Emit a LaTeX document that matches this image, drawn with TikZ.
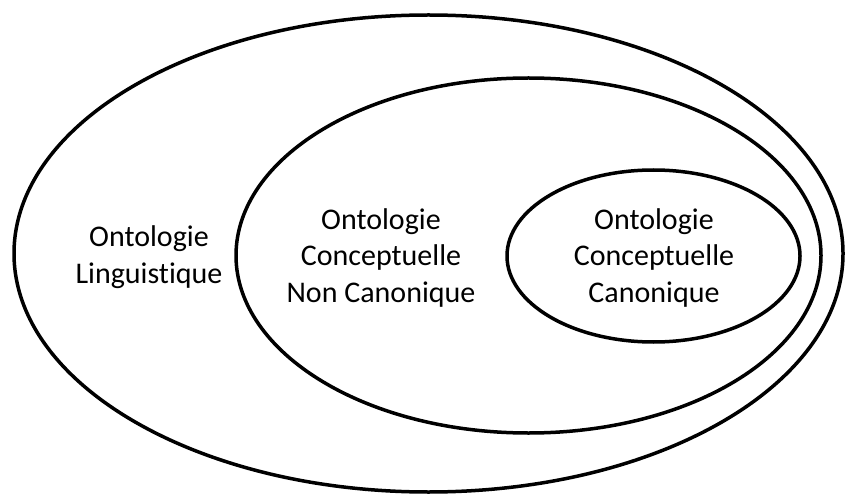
\documentclass[tikz,border=0pt]{standalone}
\usepackage{fontspec}
\setmainfont{Carlito}[Ligatures=NoCommon]
\begin{document}
\begin{tikzpicture}[x=1pt,y=-1pt,
  ring/.style={draw=black,line width=3.5pt},
  label/.style={align=center,inner sep=0pt,font=\fontsize{30}{36.5}\selectfont}]
  \useasboundingbox[fill=white] (0,0) rectangle (845,494);
  % nested sets
  \draw[ring] (428.5,253.5) ellipse [x radius=414.5, y radius=238.5];
  \draw[ring] (528.5,255.5) ellipse [x radius=292.5, y radius=177.5];
  \draw[ring] (653.5,256) ellipse [x radius=146.5, y radius=86];
  % set names
  \node[label] (ling) at (149,257) {Ontologie\\Linguistique};
  \node[label] (ncan) at (381,258) {Ontologie\\Conceptuelle\\Non Canonique};
  \node[label] (can)  at (654,258) {Ontologie\\Conceptuelle\\Canonique};
\end{tikzpicture}
\end{document}
